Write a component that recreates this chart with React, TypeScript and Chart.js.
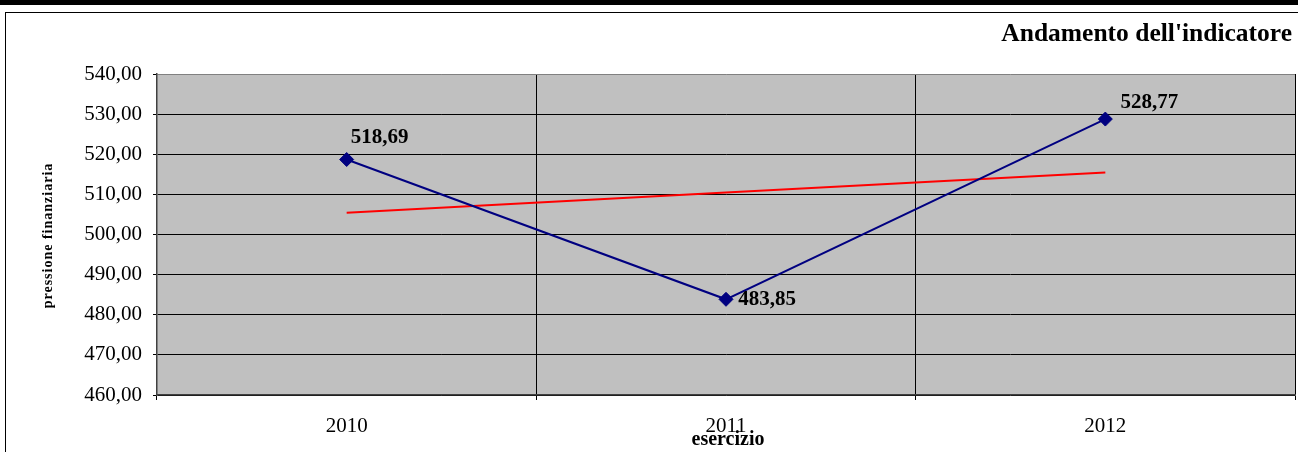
import React, { useEffect, useRef } from 'react';
import { Chart, registerables } from 'chart.js';

Chart.register(...registerables);

const categories = ['2010', '2011', '2012'];
const indicatorValues = [518.69, 483.85, 528.77];
const trendValues = [505.4, 510.44, 515.48];
const yTickValues = [460, 470, 480, 490, 500, 510, 520, 530, 540];
const chartTitle = "Andamento dell'indicatore";
const yAxisTitle = 'pressione finanziaria';
const xAxisTitle = 'esercizio';

const W = 1298;
const H = 452;
const SERIF = '"Liberation Serif", "Times New Roman", serif';
const labelOffsets: [number, number][] = [[33, -22], [41, 0], [44, -16]];

const fmt = (v: number) => v.toFixed(2).replace('.', ',');

const decorPlugin = {
  id: 'decor',
  beforeDraw(chart: any) {
    const { ctx, chartArea } = chart;
    ctx.save();
    ctx.fillStyle = '#ffffff';
    ctx.fillRect(0, 0, W, H);
    ctx.fillStyle = '#000000';
    ctx.fillRect(0, 0, W, 5);
    ctx.strokeStyle = '#000000';
    ctx.lineWidth = 1;
    ctx.strokeRect(5.5, 12.5, W + 20, H + 20);
    ctx.fillStyle = '#c0c0c0';
    ctx.fillRect(chartArea.left, chartArea.top, chartArea.right - chartArea.left, chartArea.bottom - chartArea.top);
    ctx.restore();
  },
  afterDatasetsDraw(chart: any) {
    const { ctx } = chart;
    const meta = chart.getDatasetMeta(0);
    ctx.save();
    ctx.fillStyle = '#000000';
    ctx.font = 'bold 21px ' + SERIF;
    ctx.textAlign = 'center';
    ctx.textBaseline = 'middle';
    meta.data.forEach((pt: any, i: number) => {
      const [dx, dy] = labelOffsets[i];
      ctx.fillText(fmt(indicatorValues[i]), pt.x + dx, pt.y + dy);
    });
    ctx.restore();
  },
  afterDraw(chart: any) {
    const { ctx, chartArea } = chart;
    ctx.save();
    ctx.fillStyle = '#000000';
    ctx.font = 'bold 25.5px ' + SERIF;
    ctx.textAlign = 'right';
    ctx.textBaseline = 'alphabetic';
    ctx.fillText(chartTitle, 1292, 41);

    ctx.font = 'bold 20px ' + SERIF;
    ctx.textAlign = 'center';
    ctx.textBaseline = 'alphabetic';
    ctx.fillText(xAxisTitle, (chartArea.left + chartArea.right) / 2 + 2, 445);

    ctx.translate(48.5, (chartArea.top + chartArea.bottom) / 2 + 1);
    ctx.rotate(-Math.PI / 2);
    ctx.font = 'bold 14px ' + SERIF;
    try {
      (ctx as any).letterSpacing = '1px';
    } catch (e) {}
    ctx.textAlign = 'center';
    ctx.textBaseline = 'middle';
    ctx.fillText(yAxisTitle, 0, 0);
    ctx.restore();
  },
};

export default function App() {
  const canvasRef = useRef<HTMLCanvasElement | null>(null);

  useEffect(() => {
    const canvas = canvasRef.current;
    if (!canvas) return;
    const chart = new Chart(canvas, {
      type: 'line',
      data: {
        labels: categories,
        datasets: [
          {
            label: 'indicatore',
            data: indicatorValues,
            borderColor: '#000080',
            backgroundColor: '#000080',
            borderWidth: 2,
            pointStyle: 'rectRot',
            pointRadius: 7,
            pointBackgroundColor: '#000080',
            pointBorderColor: '#000080',
            pointBorderWidth: 1,
            tension: 0,
            fill: false,
          },
          {
            label: 'tendenza',
            data: trendValues,
            borderColor: '#ff0000',
            borderWidth: 2,
            pointRadius: 0,
            tension: 0,
            fill: false,
          },
        ],
      },
      options: {
        responsive: false,
        animation: false,
        devicePixelRatio: 1,
        layout: { autoPadding: false, padding: { top: 74, right: 3, left: 0, bottom: 0 } },
        plugins: {
          legend: { display: false },
          title: { display: false },
          tooltip: { enabled: false },
        },
        scales: {
          x: {
            type: 'category',
            offset: true,
            afterFit(scale: any) {
              scale.height = 57;
            },
            grid: {
              offset: true,
              drawTicks: true,
              tickLength: 5,
              color: (c: any) => (c.index === 3 ? '#808080' : '#000000'),
              tickColor: '#000000',
              lineWidth: 1,
            },
            border: { display: true, color: '#404040', width: 1.5 },
            ticks: {
              color: '#000000',
              font: { family: SERIF, size: 21 },
              padding: 14,
              maxRotation: 0,
              autoSkip: false,
            },
          },
          y: {
            min: yTickValues[0],
            max: yTickValues[yTickValues.length - 1],
            afterFit(scale: any) {
              scale.width = 157;
            },
            afterBuildTicks(scale: any) {
              scale.ticks = yTickValues.map((v) => ({ value: v }));
            },
            grid: {
              drawTicks: true,
              tickLength: 4,
              color: (c: any) => (c.tick && c.tick.value === 540 ? '#808080' : '#000000'),
              tickColor: '#000000',
              lineWidth: 1,
            },
            border: { display: true, color: '#404040', width: 1.5 },
            ticks: {
              color: '#000000',
              font: { family: SERIF, size: 21 },
              padding: 11,
              callback: (v: any) => fmt(Number(v)),
            },
          },
        },
      },
      plugins: [decorPlugin],
    });
    return () => chart.destroy();
  }, []);

  return (
    <div style={{ position: 'absolute', left: 0, top: 0, width: W, height: H, overflow: 'hidden' }}>
      <canvas ref={canvasRef} width={W} height={H} style={{ display: 'block', width: W, height: H }} />
    </div>
  );
}
